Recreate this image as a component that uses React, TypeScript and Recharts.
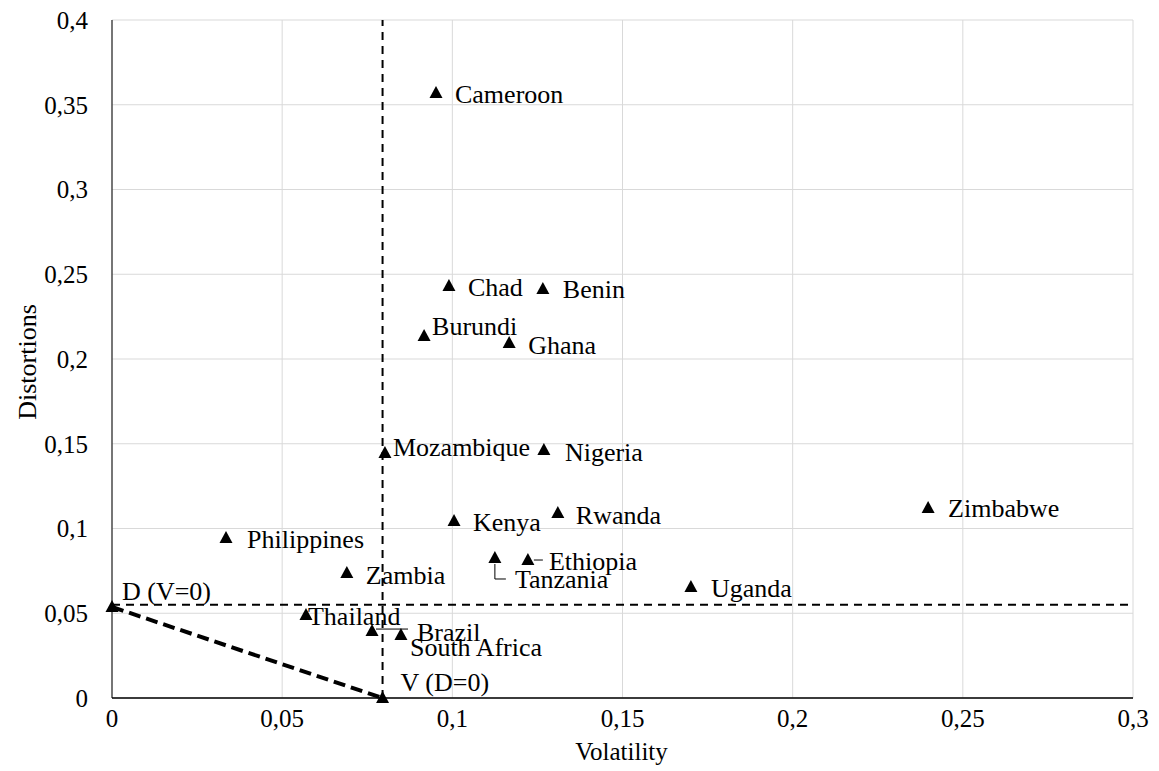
import React from 'react';
import { ScatterChart, Scatter, XAxis, YAxis, CartesianGrid, ReferenceLine } from 'recharts';

const countries = ['Cameroon', 'Chad', 'Benin', 'Burundi', 'Ghana', 'Mozambique', 'Nigeria', 'Kenya', 'Rwanda', 'Zimbabwe', 'Philippines', 'Tanzania', 'Ethiopia', 'Zambia', 'Uganda', 'Thailand', 'Brazil', 'South Africa', 'D (V=0)', 'V (D=0)'];
const volatility = [0.0952, 0.099, 0.1266, 0.0917, 0.1167, 0.0802, 0.1269, 0.1005, 0.131, 0.2398, 0.0335, 0.1125, 0.1222, 0.069, 0.1701, 0.057, 0.0764, 0.0849, 0, 0.0795];
const distortions = [0.357, 0.243, 0.2413, 0.2136, 0.2094, 0.1445, 0.1463, 0.1044, 0.1091, 0.1121, 0.0944, 0.0826, 0.0814, 0.0737, 0.0655, 0.049, 0.0395, 0.0372, 0.0537, 0];

const xTicks = [0, 0.05, 0.1, 0.15, 0.2, 0.25, 0.3];
const yTicks = [0, 0.05, 0.1, 0.15, 0.2, 0.25, 0.3, 0.35, 0.4];

const thresholdV = 0.0795;
const thresholdD = 0.055;
const frontierStart = { x: 0, y: 0.0537 };
const frontierEnd = { x: 0.0795, y: 0 };

const data = countries.map((name, i) => ({ name, x: volatility[i], y: distortions[i] }));

// label placement (style): offset of text start/center from marker center
const labelPos: Record<string, [number, number]> = {
  Cameroon: [19, 2],
  Chad: [19, 1],
  Benin: [20, 1],
  Burundi: [8, -9],
  Ghana: [19, 2],
  Mozambique: [8, -6],
  Nigeria: [21, 2],
  Kenya: [19, 1],
  Rwanda: [18, 2],
  Zimbabwe: [20, 1],
  Philippines: [21, 2],
  Tanzania: [20, 22],
  Ethiopia: [21, 1],
  Zambia: [19, 2],
  Uganda: [20, 2],
  Thailand: [2, 2],
  Brazil: [45, 1],
  'South Africa': [9, 13],
  'D (V=0)': [10, -15],
  'V (D=0)': [18, -16],
};

const FONT = 'Liberation Serif, DejaVu Serif, serif';
const fmt = (v: number) => String(v).replace('.', ',');

const PointShape = (props: any) => {
  const { cx, cy, payload } = props;
  if (cx == null || cy == null) return null;
  const name = payload.name as string;
  const [dx, dy] = labelPos[name] || [18, 0];
  return (
    <g>
      <path d={`M${cx},${cy - 7}L${cx + 6.5},${cy + 5}L${cx - 6.5},${cy + 5}Z`} fill="#000" />
      {name === 'Brazil' && (
        <line x1={cx + 4} y1={cy - 2} x2={cx + 36} y2={cy - 2} stroke="#000" strokeWidth={1} />
      )}
      {name === 'Tanzania' && (
        <polyline points={`${cx},${cy + 6} ${cx},${cy + 21} ${cx + 11},${cy + 21}`} fill="none" stroke="#000" strokeWidth={1} />
      )}
      {name === 'Ethiopia' && (
        <line x1={cx + 6} y1={cy} x2={cx + 15} y2={cy} stroke="#000" strokeWidth={1} />
      )}
      <text x={cx + dx} y={cy + dy} dominantBaseline="central" style={{ fontFamily: FONT, fontSize: 26 }} fill="#000">
        {name}
      </text>
    </g>
  );
};

export default function App() {
  return (
    <div style={{ position: 'absolute', left: 0, top: 0, width: 1159, height: 771, background: '#fff', fontFamily: FONT }}>
      <ScatterChart width={1159} height={771} margin={{ top: 20, right: 26, bottom: 23, left: 0 }} style={{ fontFamily: FONT }}>
        <CartesianGrid stroke="#d9d9d9" strokeWidth={1} />
        <XAxis
          type="number"
          dataKey="x"
          domain={[0, 0.3]}
          ticks={xTicks}
          tickFormatter={fmt}
          height={50}
          tickLine={false}
          tickSize={0}
          tickMargin={11}
          axisLine={{ stroke: '#000', strokeWidth: 1.5 }}
          tick={{ fontSize: 25, fill: '#000', style: { fontFamily: FONT } }}
          interval={0}
          label={{
            content: (p: any) => {
              const vb = p.viewBox || { x: 112, width: 1021 };
              return (
                <text x={vb.x + vb.width / 2 - 1} y={751} textAnchor="middle" dominantBaseline="central" style={{ fontFamily: FONT, fontSize: 25 }} fill="#000">
                  Volatility
                </text>
              );
            },
          }}
        />
        <YAxis
          type="number"
          dataKey="y"
          domain={[0, 0.4]}
          ticks={yTicks}
          tickFormatter={fmt}
          width={112}
          tickLine={false}
          tickSize={0}
          tickMargin={24}
          axisLine={{ stroke: '#000', strokeWidth: 1 }}
          tick={{ fontSize: 25, fill: '#000', style: { fontFamily: FONT } }}
          interval={0}
          label={{
            content: (p: any) => {
              const vb = p.viewBox || { y: 20, height: 678 };
              const cy = vb.y + vb.height / 2 + 3;
              return (
                <text x={27} y={cy} transform={`rotate(-90 27 ${cy})`} textAnchor="middle" dominantBaseline="central" style={{ fontFamily: FONT, fontSize: 26 }} fill="#000">
                  Distortions
                </text>
              );
            },
          }}
        />
        <ReferenceLine x={thresholdV} stroke="#000" strokeWidth={2} strokeDasharray="8 6" />
        <ReferenceLine y={thresholdD} stroke="#000" strokeWidth={2} strokeDasharray="8 6" />
        <ReferenceLine segment={[frontierStart, frontierEnd]} stroke="#000" strokeWidth={4} strokeDasharray="12 6" />
        <Scatter data={data} shape={PointShape} isAnimationActive={false} />
      </ScatterChart>
    </div>
  );
}
